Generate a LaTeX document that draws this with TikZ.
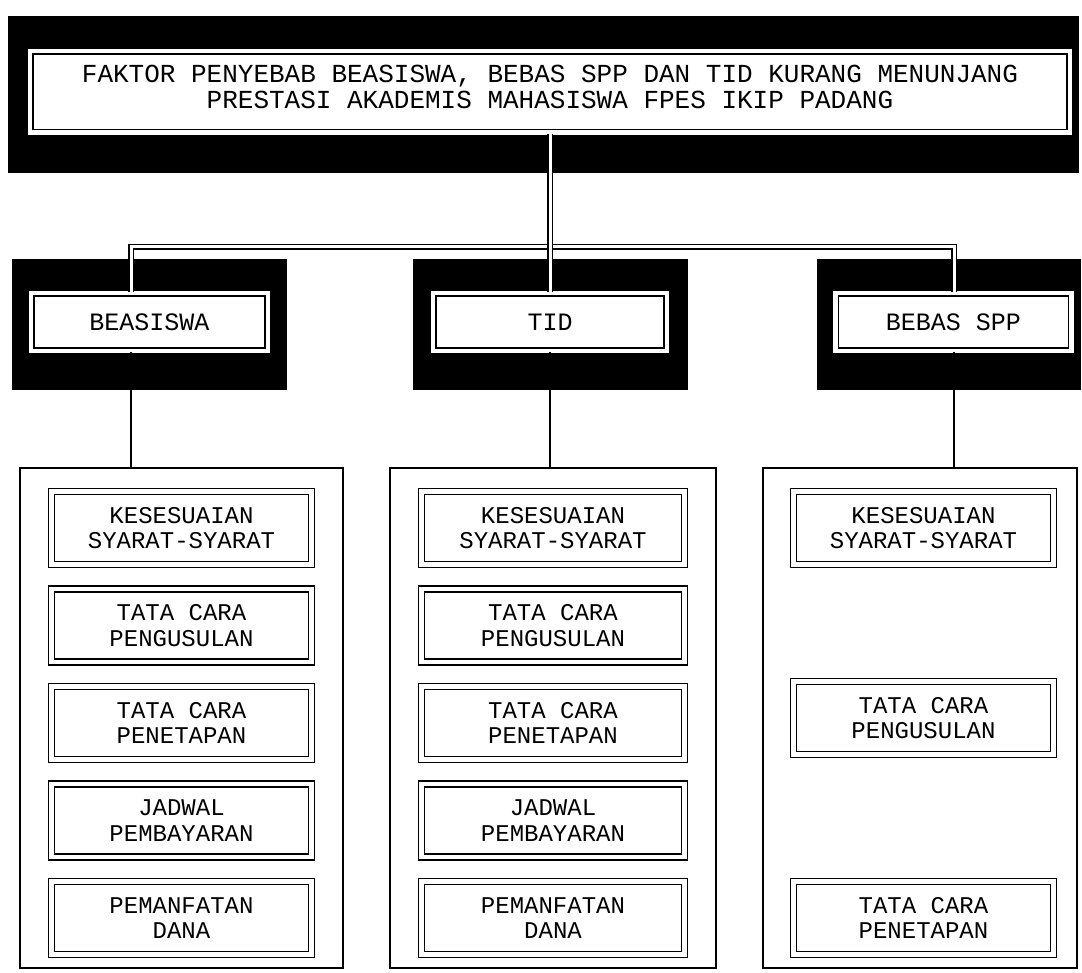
\documentclass[tikz,border=0pt]{standalone}
\usepackage{fontspec}
\setmonofont{Liberation Mono}
\usepackage{tikz}
\usetikzlibrary{calc}

\begin{document}
\begin{tikzpicture}[x=1pt,y=-1pt,
  hitam/.style={fill=black, draw=black, inner sep=0pt},
  kotak/.style={draw=black, line width=1.6pt, double=white, double distance=4.5pt,
    fill=white, inner sep=0pt, align=center,
    font=\ttfamily\fontsize{24}{25.5}\selectfont},
  item/.style={kotak, minimum width=#1, minimum height=73},
  kolom/.style={draw=black, line width=1.8pt, inner sep=0pt, minimum height=500},
  dobel/.style={draw=black, line width=1.3pt, double=white, double distance=3pt},
  garis/.style={draw=black, line width=1.8pt}]
\useasboundingbox (0,0) rectangle (1082,973);
% Title frame
\node[hitam, minimum width=1070, minimum height=156] (judulbg) at (543,94) {};
\node[kotak, minimum width=1040, minimum height=81.5, text depth=10pt,
  font=\ttfamily\fontsize{26}{26.5}\selectfont] (judul) at (550,92)
  {FAKTOR PENYEBAB BEASISWA, BEBAS SPP DAN TID KURANG MENUNJANG\\
   PRESTASI AKADEMIS MAHASISWA FPES IKIP PADANG};
% Second row frames
\node[hitam, minimum width=274, minimum height=130] (beasiswabg) at (149,324) {};
\node[hitam, minimum width=274, minimum height=130] (tidbg) at (550,324) {};
\node[hitam, minimum width=263, minimum height=130] (bebasbg) at (948.5,324) {};
\node[kotak, minimum width=237, minimum height=58, font=\ttfamily\fontsize{25}{26}\selectfont]
  (beasiswa) at (149.5,322) {BEASISWA};
\node[kotak, minimum width=234, minimum height=58, font=\ttfamily\fontsize{25}{26}\selectfont]
  (tid) at (550,322) {TID};
\node[kotak, minimum width=236, minimum height=58, font=\ttfamily\fontsize{25}{26}\selectfont]
  (bebas) at (953.5,322) {BEBAS SPP};
% Columns
\node[kolom, minimum width=323] (kolom1) at (181.5,718) {};
\node[kolom, minimum width=326] (kolom2) at (553,718) {};
\node[kolom, minimum width=314] (kolom3) at (920,718) {};
% Items of the first column
\node[item=260] (k1a) at (181.5,528) {KESESUAIAN\\SYARAT-SYARAT};
\node[item=260] (k1b) at (181.5,625.5) {TATA CARA\\PENGUSULAN};
\node[item=260] (k1c) at (181.5,723) {TATA CARA\\PENETAPAN};
\node[item=260] (k1d) at (181.5,820.5) {JADWAL\\PEMBAYARAN};
\node[item=260] (k1e) at (181.5,918) {PEMANFATAN\\DANA};
% Items of the second column
\node[item=263] (k2a) at (553,528) {KESESUAIAN\\SYARAT-SYARAT};
\node[item=263] (k2b) at (553,625.5) {TATA CARA\\PENGUSULAN};
\node[item=263] (k2c) at (553,723) {TATA CARA\\PENETAPAN};
\node[item=263] (k2d) at (553,820.5) {JADWAL\\PEMBAYARAN};
\node[item=263] (k2e) at (553,918) {PEMANFATAN\\DANA};
% Items of the third column
\node[item=260] (k3a) at (923.5,528) {KESESUAIAN\\SYARAT-SYARAT};
\node[item=260] (k3b) at (923.5,718) {TATA CARA\\PENGUSULAN};
\node[item=260] (k3c) at (923.5,918) {TATA CARA\\PENETAPAN};
% Double connectors
\coordinate (kiri) at (131,247);
\coordinate (kanan) at (954,247);
\draw[dobel] (beasiswa.north -| kiri) -- (kiri) -- (kanan) -- (bebas.north -| kanan);
\draw[dobel] (judul.south) -- (tid.north);
% Single connectors
\draw[garis] (beasiswa.south -| kiri) -- (kolom1.north -| kiri);
\draw[garis] (tid.south) -- (tid.south |- kolom2.north);
\draw[garis] (bebas.south -| kanan) -- (kolom3.north -| kanan);
\end{tikzpicture}
\end{document}
